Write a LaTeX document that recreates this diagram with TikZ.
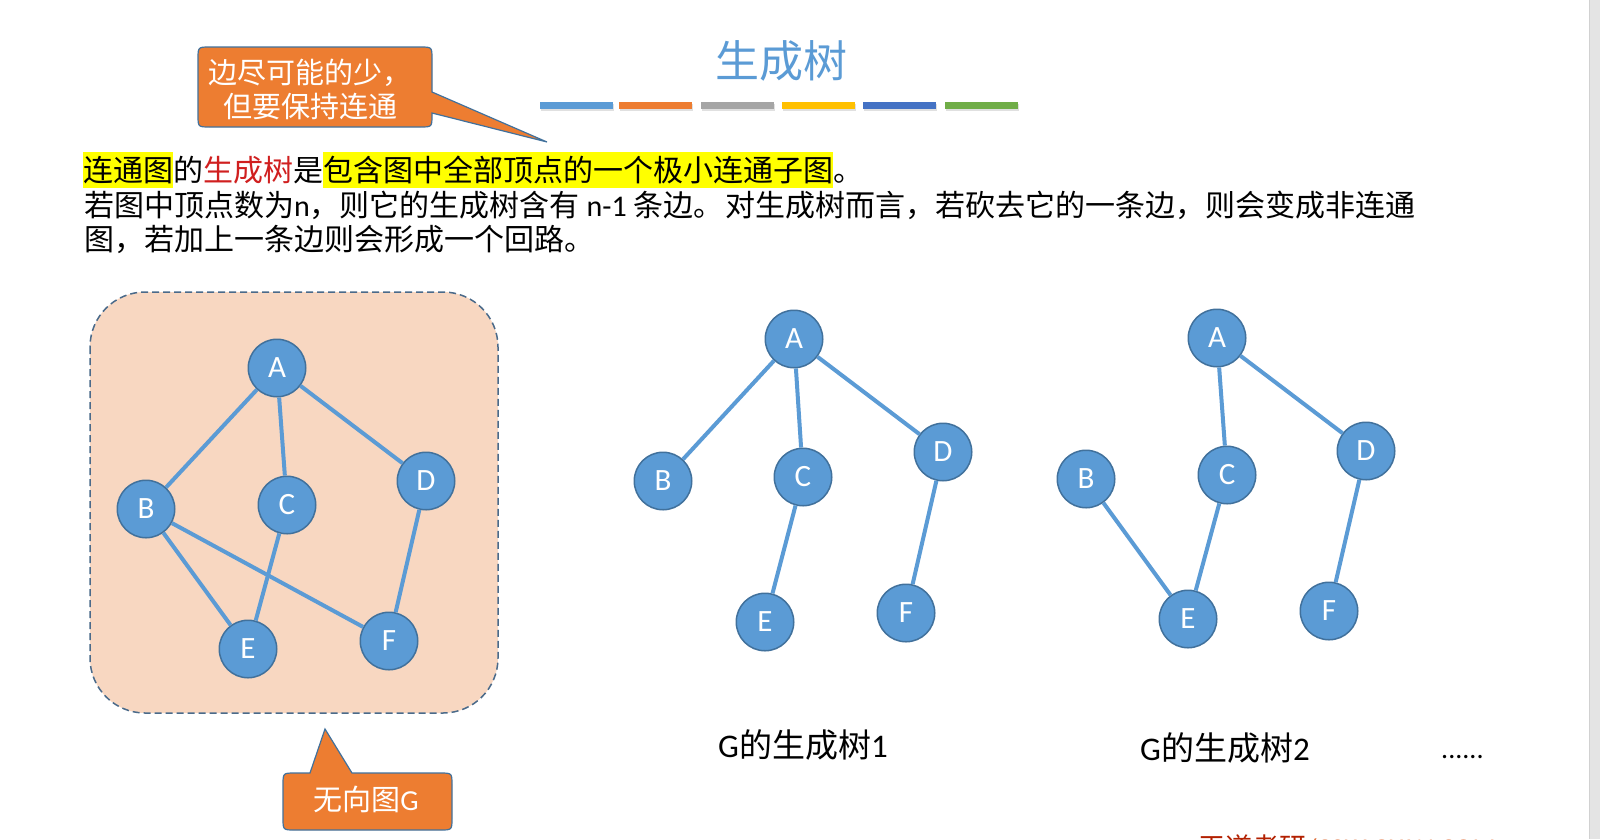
\documentclass[tikz,border=0pt]{standalone}
\usepackage{fontspec}
\setmainfont{Noto Sans CJK SC}
\newfontfamily\lat{Carlito}
\definecolor{nodeblue}{HTML}{5B9BD5}
\definecolor{nodeborder}{HTML}{41719C}
\definecolor{calloutorange}{HTML}{ED7D31}
\definecolor{calloutborder}{HTML}{41719C}
\definecolor{peach}{HTML}{F8D7C1}
\definecolor{dashborder}{HTML}{4A6A8A}
\definecolor{hlyellow}{HTML}{FFFF00}
\definecolor{redtext}{HTML}{D01F1F}
\definecolor{barA}{HTML}{5B9BD5}
\definecolor{barB}{HTML}{ED7D31}
\definecolor{barC}{HTML}{A5A5A5}
\definecolor{barD}{HTML}{FFC000}
\definecolor{barE}{HTML}{4472C4}
\definecolor{barF}{HTML}{70AD47}
\definecolor{wdred}{HTML}{B32000}
\definecolor{wdorange}{HTML}{E0703A}
\definecolor{scrollgray}{HTML}{E4E4E4}
\newcommand{\hlbox}[1]{{\setlength{\fboxsep}{0pt}\colorbox{hlyellow}{\rule[-7pt]{0pt}{36pt}#1}}}
\begin{document}
\begin{tikzpicture}[x=1pt,y=-1pt,
  vtx/.style={circle, minimum size=57.5pt, inner sep=0pt, line width=1.5pt,
    draw=nodeborder, fill=nodeblue, text=white, font=\lat\fontsize{31}{33}\selectfont},
  edge/.style={draw=nodeblue, line width=4pt},
  txt/.style={inner sep=0pt, anchor=base west},
  callout/.style={fill=calloutorange, draw=calloutborder, line width=1.2pt},
  colorbar/.style={inner sep=0pt, minimum width=73pt, minimum height=7pt, anchor=north west}]
\clip (0,0) rectangle (1600,839);
\fill[white] (0,0) rectangle (1600,839);
% scrollbar strip at right edge
\fill[scrollgray] (1589,0) rectangle (1600,839);
\draw[black!18, line width=1pt] (1589.5,0) -- (1589.5,839);

% title
\node[inner sep=0pt, anchor=base, text=nodeblue, font=\fontsize{44}{50}\selectfont] (title) at (781,77) {生成树};

% colour bars
\foreach \xa/\c [count=\i] in {540/barA,619/barB,701/barC,782/barD,863/barE,945/barF}{
  \fill[black!20, opacity=0.6] ({\xa+1},104) rectangle ({\xa+74},111);
  \node[colorbar, fill=\c] (bar\i) at (\xa,102) {};
}

% callout 1
\path[callout] (198,59) .. controls (198,47) .. (210,47) -- (420,47) .. controls (432,47) .. (432,59)
  -- (432,92) -- (547,142) -- (432,113) -- (432,115) .. controls (432,127) .. (420,127)
  -- (210,127) .. controls (198,127) .. (198,115) -- cycle;
\node[inner sep=0pt, align=center, text=white, font=\fontsize{29}{34}\selectfont] (calloutA) at (310,89) {边尽可能的少，\\但要保持连通};

% main text
\node[txt, font=\fontsize{30}{36}\selectfont] (line1) at (83,181)
  {\hlbox{连通图}的{\color{redtext}生成树}是\hlbox{包含图中全部顶点的一个极小连通子图}。};
\node[txt, font=\fontsize{30}{36}\selectfont] (line2a) at (84,216)
  {若图中顶点数为{\lat n}，则它的生成树含有{\lat\ n-1 }条边。};
\node[txt, font=\fontsize{30}{36}\selectfont] (line2b) at (725,216)
  {对生成树而言，若砍去它的一条边，则会变成非连通};
\node[txt, font=\fontsize{30}{36}\selectfont] (line3) at (84,250.5)
  {图，若加上一条边则会形成一个回路。};

% graph G box
\draw[fill=peach, draw=dashborder, line width=1.5pt, dash pattern=on 7pt off 4pt, rounded corners=55pt]
  (90,292) rectangle (498,713);
\node[vtx] (gA) at (277,368) {A};
\node[vtx] (gB) at (146,509) {B};
\node[vtx] (gC) at (287,505) {C};
\node[vtx] (gD) at (426,481) {D};
\node[vtx] (gE) at (248,649) {E};
\node[vtx] (gF) at (389,641) {F};
\draw[edge] (gA) -- (gB);
\draw[edge] (gA) -- (gC);
\draw[edge] (gA) -- (gD);
\draw[edge] (gB) -- (gE);
\draw[edge] (gB) -- (gF);
\draw[edge] (gC) -- (gE);
\draw[edge] (gD) -- (gF);

% callout 2
\path[callout] (283,785) .. controls (283,773) .. (295,773) -- (310,773) -- (325,729) -- (352,773)
  -- (440,773) .. controls (452,773) .. (452,785) -- (452,818) .. controls (452,830) .. (440,830)
  -- (295,830) .. controls (283,830) .. (283,818) -- cycle;
\node[inner sep=0pt, text=white, font=\fontsize{29}{32}\selectfont] (calloutB) at (366,799) {无向图{\lat G}};

% spanning tree 1
\node[vtx] (pA) at (794,339) {A};
\node[vtx] (pB) at (663,481) {B};
\node[vtx] (pC) at (803,477) {C};
\node[vtx] (pD) at (943,452) {D};
\node[vtx] (pE) at (765,622) {E};
\node[vtx] (pF) at (906,613) {F};
\draw[edge] (pA) -- (pB);
\draw[edge] (pA) -- (pC);
\draw[edge] (pA) -- (pD);
\draw[edge] (pC) -- (pE);
\draw[edge] (pD) -- (pF);
\node[inner sep=0pt, anchor=base, font=\fontsize{33}{38}\selectfont] (cap1) at (803,757) {{\lat G}的生成树{\lat 1}};

% spanning tree 2
\node[vtx] (qA) at (1217,338) {A};
\node[vtx] (qB) at (1086,479) {B};
\node[vtx] (qC) at (1227,475) {C};
\node[vtx] (qD) at (1366,451) {D};
\node[vtx] (qE) at (1188,619) {E};
\node[vtx] (qF) at (1329,611) {F};
\draw[edge] (qA) -- (qC);
\draw[edge] (qA) -- (qD);
\draw[edge] (qB) -- (qE);
\draw[edge] (qC) -- (qE);
\draw[edge] (qD) -- (qF);
\node[inner sep=0pt, anchor=base, font=\fontsize{33}{38}\selectfont] (cap2) at (1225,760) {{\lat G}的生成树{\lat 2}};

\node[txt, font=\lat\fontsize{28}{32}\selectfont] (dots) at (1441,758) {......};

% footer (cut by the page edge, as in the reference)
\node[txt, font=\fontsize{27}{32}\selectfont] (footer) at (1198,857)
  {{\color{wdred}王道考研}{\lat\color{wdorange}/CSKAOYAN.COM}};
\end{tikzpicture}
\end{document}
